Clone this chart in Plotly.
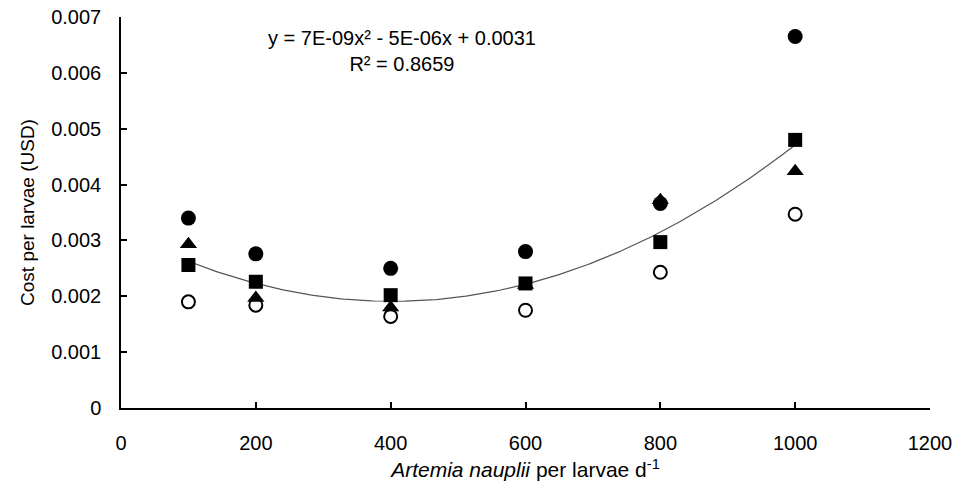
import numpy as np
import plotly.graph_objects as go

# Data
x_vals = [100, 200, 400, 600, 800, 1000]
filled_circle = [0.00340, 0.00276, 0.00250, 0.00280, 0.00366, 0.00665]
triangle = [0.00293, 0.00197, 0.00180, 0.00220, 0.00372, 0.00424]
square = [0.00256, 0.00226, 0.00202, 0.00223, 0.00297, 0.00480]
open_circle = [0.00190, 0.00184, 0.00164, 0.00175, 0.00243, 0.00347]

x_ticks = [0, 200, 400, 600, 800, 1000, 1200]
y_ticks = [0, 0.001, 0.002, 0.003, 0.004, 0.005, 0.006, 0.007]
y_tick_labels = ["0", "0.001", "0.002", "0.003", "0.004", "0.005", "0.006", "0.007"]

equation_text = "y = 7E-09x² - 5E-06x + 0.0031<br>R² = 0.8659"

# Polynomial trendline (order 2) fitted to the square series
coef = np.polyfit(np.array(x_vals, dtype=float), np.array(square), 2)
xs = np.linspace(min(x_vals), max(x_vals), 200)
ys = np.polyval(coef, xs)

FONT = "Liberation Sans, Arial, sans-serif"

fig = go.Figure()
fig.add_trace(go.Scatter(x=xs, y=ys, mode="lines",
                         line=dict(color="#555555", width=1.2), hoverinfo="skip"))
fig.add_trace(go.Scatter(x=x_vals, y=open_circle, mode="markers",
                         marker=dict(symbol="circle", size=13, color="white",
                                     line=dict(color="black", width=2))))
fig.add_trace(go.Scatter(x=x_vals, y=filled_circle, mode="markers",
                         marker=dict(symbol="circle", size=15, color="black")))
fig.add_trace(go.Scatter(x=x_vals, y=triangle, mode="markers",
                         marker=dict(symbol="triangle-up", size=15, color="black")))
fig.add_trace(go.Scatter(x=x_vals, y=square, mode="markers",
                         marker=dict(symbol="square", size=14, color="black")))

fig.add_annotation(x=0.347, y=0.913, xref="paper", yref="paper", text=equation_text,
                   showarrow=False, align="center", xanchor="center", yanchor="middle",
                   font=dict(family=FONT, size=20, color="black"))

fig.update_layout(
    width=955, height=495,
    margin=dict(l=121, r=25, t=17, b=87),
    paper_bgcolor="white", plot_bgcolor="white",
    showlegend=False,
    font=dict(family=FONT, color="black"),
    xaxis=dict(range=[0, 1200], tickvals=x_ticks, ticks="inside", ticklen=6,
               tickwidth=1.5, tickcolor="black", showline=True, linecolor="black",
               linewidth=1.5, showgrid=False, zeroline=False, automargin=False,
               ticklabelstandoff=16,
               tickfont=dict(size=20, family=FONT),
               title=dict(text="<i>Artemia nauplii</i> per larvae d<sup>-1</sup>",
                          font=dict(size=21, family=FONT), standoff=10)),
    yaxis=dict(range=[0, 0.007], tickvals=y_ticks, ticktext=y_tick_labels,
               ticks="inside", ticklen=6, tickwidth=1.5, tickcolor="black",
               showline=True, linecolor="black", linewidth=1.5, showgrid=False,
               zeroline=False, automargin=False, ticklabelstandoff=14,
               tickfont=dict(size=20, family=FONT),
               title=dict(text="Cost per larvae (USD)",
                          font=dict(size=19, family=FONT), standoff=12)),
)

fig.write_html("out.html", config={"displayModeBar": False},
               post_script="document.body.style.margin='0px';")
